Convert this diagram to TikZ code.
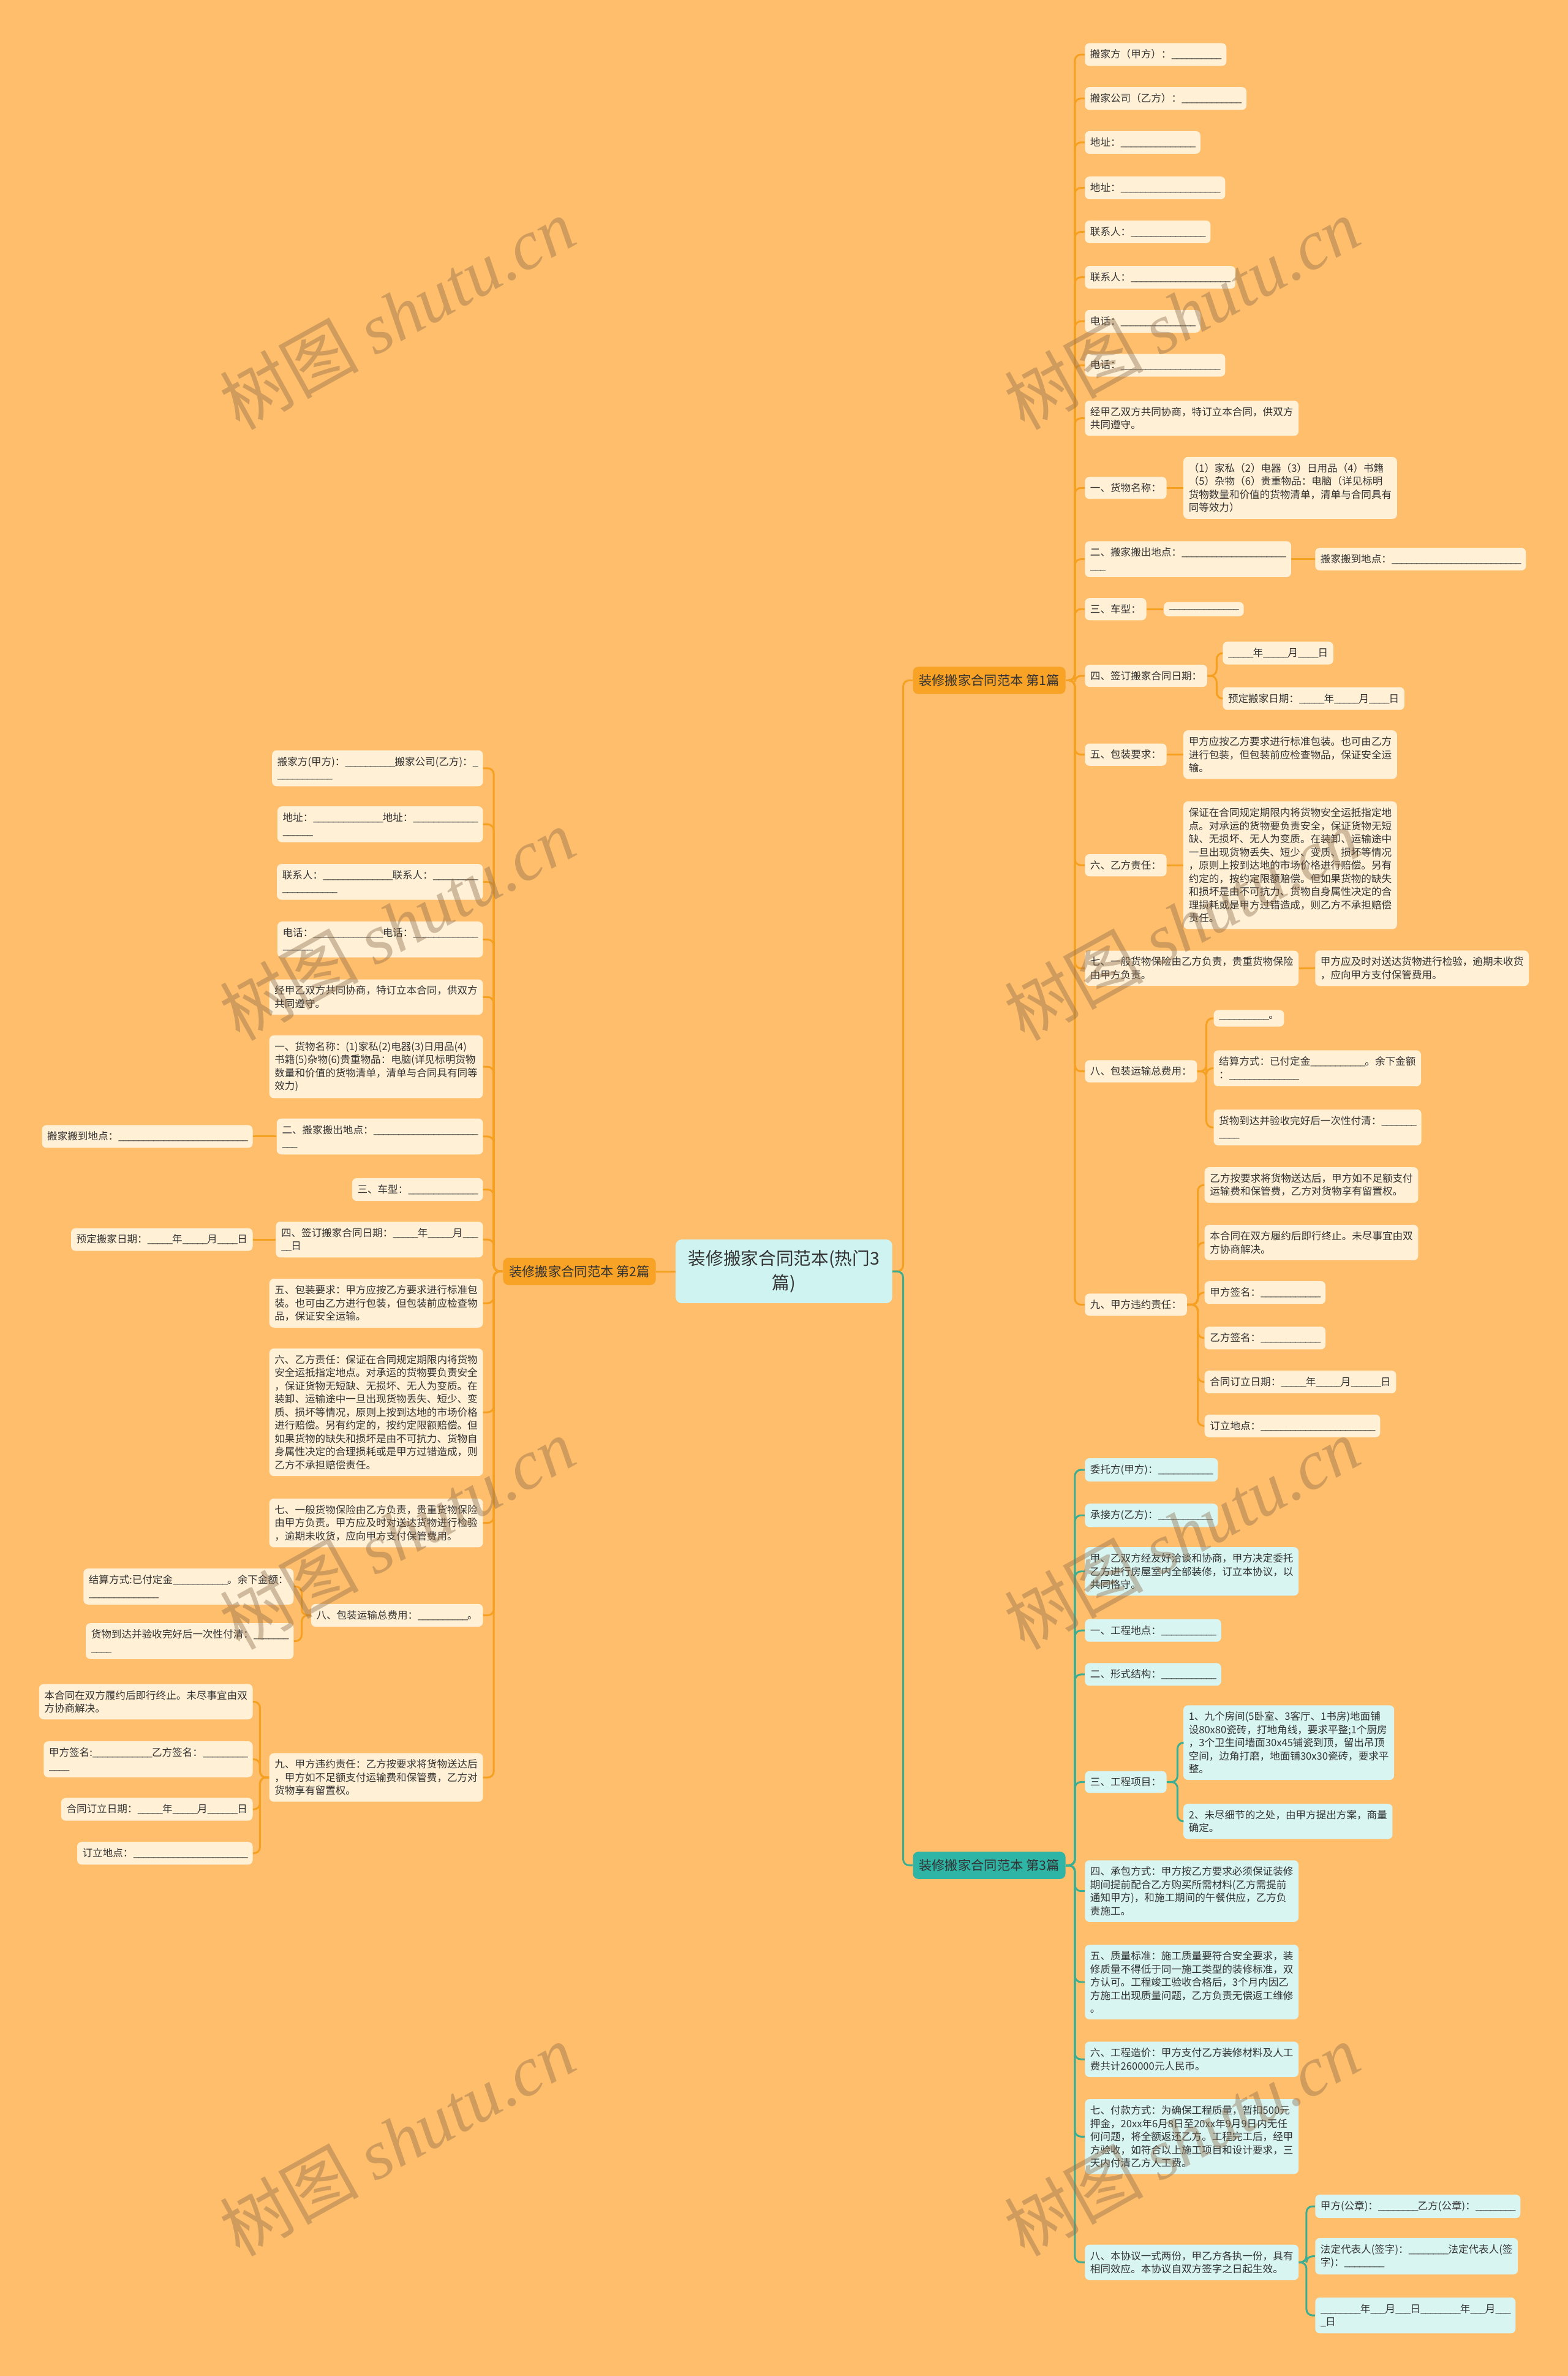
\documentclass[tikz,border=0pt]{standalone}
\usepackage{fontspec}
\setmainfont{Noto Sans CJK SC}
\newfontfamily\wmlatin{Liberation Serif}
\usepackage{tikz}
\usetikzlibrary{positioning}
\definecolor{PageOrange}{HTML}{FFBE6B}
\definecolor{LeafCream}{HTML}{FFF0D6}
\definecolor{LeafTeal}{HTML}{D8F5F1}
\definecolor{HeadOrange}{HTML}{F8A226}
\definecolor{HeadTeal}{HTML}{2EB5A6}
\definecolor{RootTeal}{HTML}{CEF3F0}
\definecolor{LinkOrange}{HTML}{F6A021}
\definecolor{LinkTeal}{HTML}{3AAE93}
\definecolor{TextDark}{HTML}{333333}
\definecolor{WmBrown}{HTML}{8B6B4A}
\newcommand{\leaffont}{\fontsize{6.7}{8.7}\selectfont}
\newcommand{\headfont}{\fontsize{8.6}{10}\selectfont}
\newcommand{\rootfont}{\fontsize{11.6}{16}\selectfont}
\newcommand{\wmfont}{\fontsize{46}{46}\selectfont}
\newcommand{\blnk}[1]{\foreach \x in {1,...,#1}{\_\kern-0.07em}}

\begin{document}
\begin{tikzpicture}[x=1pt, y=-1pt,
  % ── node styles ──────────────────────────────────────────
  leaf/.style={
    fill=LeafCream, rounded corners=3pt,
    align=left, font=\leaffont, text=TextDark,
    inner xsep=3.5pt, inner ysep=4.2pt
  },
  tleaf/.style={leaf, fill=LeafTeal},
  head/.style={
    fill=HeadOrange, rounded corners=3.5pt,
    font=\headfont, text=TextDark,
    minimum height=18pt, inner xsep=4pt
  },
  thead/.style={head, fill=HeadTeal},
  rootbox/.style={
    fill=RootTeal, rounded corners=4pt,
    align=center, font=\rootfont, text=TextDark,
    minimum width=143pt, minimum height=42pt
  },
  % ── link styles ──────────────────────────────────────────
  olink/.style={draw=LinkOrange, line width=1.2pt, rounded corners=4pt},
  tlink/.style={olink, draw=LinkTeal},
  % ── watermark ────────────────────────────────────────────
  wmark/.style={rotate=29, text=WmBrown, opacity=0.4, font=\wmfont}
]

\fill[PageOrange] (0,0) rectangle (1035,1568);
\useasboundingbox (0,0) rectangle (1035,1568);

%% ── Root and chapters ──
\node[rootbox] (ROOT) at (517.5,839) {装修搬家合同范本(热门3\\篇)};
\node[head]  (P1) at (653,449)  {装修搬家合同范本 第1篇};
\node[head]  (P2) at (382.5,839) {装修搬家合同范本 第2篇};
\node[thead] (P3) at (653,1231) {装修搬家合同范本 第3篇};

%% ── Chapter 1 ──
\node[leaf, anchor=west] (P1a) at (716,36)  {搬家方（甲方）：\blnk{10}};
\node[leaf, anchor=west] (P1b) at (716,65)  {搬家公司（乙方）：\blnk{12}};
\node[leaf, anchor=west] (P1c) at (716,94)  {地址：\blnk{15}};
\node[leaf, anchor=west] (P1d) at (716,124) {地址：\blnk{20}};
\node[leaf, anchor=west] (P1e) at (716,153) {联系人：\blnk{15}};
\node[leaf, anchor=west] (P1f) at (716,183) {联系人：\blnk{20}};
\node[leaf, anchor=west] (P1g) at (716,212) {电话：\blnk{15}};
\node[leaf, anchor=west] (P1h) at (716,241) {电话：\blnk{20}};
\node[leaf, anchor=west] (P1i) at (716,276) {经甲乙双方共同协商，特订立本合同，供双方\\共同遵守。};
\node[leaf, anchor=west] (P1j) at (716,322) {一、货物名称：};
\node[leaf, anchor=west] (P1j1) at (781,322) {（1）家私（2）电器（3）日用品（4）书籍\\（5）杂物（6）贵重物品：电脑（详见标明\\货物数量和价值的货物清单，清单与合同具有\\同等效力）};
\node[leaf, anchor=west] (P1k) at (716,369) {二、搬家搬出地点：\blnk{21}\\\blnk{3}};
\node[leaf, anchor=west] (P1k1) at (868,369) {搬家搬到地点：\blnk{26}};
\node[leaf, anchor=west] (P1l) at (716,402) {三、车型：};
\node[leaf, anchor=west] (P1l1) at (768,402) {\blnk{14}};
\node[leaf, anchor=west] (P1m) at (716,446) {四、签订搬家合同日期：};
\node[leaf, anchor=west] (P1m1) at (807,431) {\blnk{5}年\blnk{5}月\blnk{4}日};
\node[leaf, anchor=west] (P1m2) at (807,461) {预定搬家日期：\blnk{5}年\blnk{5}月\blnk{4}日};
\node[leaf, anchor=west] (P1n) at (716,498) {五、包装要求：};
\node[leaf, anchor=west] (P1n1) at (781,498) {甲方应按乙方要求进行标准包装。也可由乙方\\进行包装，但包装前应检查物品，保证安全运\\输。};
\node[leaf, anchor=west] (P1o) at (716,571) {六、乙方责任：};
\node[leaf, anchor=west] (P1o1) at (781,571) {保证在合同规定期限内将货物安全运抵指定地\\点。对承运的货物要负责安全，保证货物无短\\缺、无损坏、无人为变质。在装卸、运输途中\\一旦出现货物丢失、短少、变质、损坏等情况\\，原则上按到达地的市场价格进行赔偿。另有\\约定的，按约定限额赔偿。但如果货物的缺失\\和损坏是由不可抗力、货物自身属性决定的合\\理损耗或是甲方过错造成，则乙方不承担赔偿\\责任。};
\node[leaf, anchor=west] (P1p) at (716,639) {七、一般货物保险由乙方负责，贵重货物保险\\由甲方负责。};
\node[leaf, anchor=west] (P1p1) at (868,639) {甲方应及时对送达货物进行检验，逾期未收货\\，应向甲方支付保管费用。};
\node[leaf, anchor=west] (P1q) at (716,707) {八、包装运输总费用：};
\node[leaf, anchor=west] (P1q1) at (801,672) {\blnk{10}。};
\node[leaf, anchor=west] (P1q2) at (801,705) {结算方式：已付定金\blnk{11}。余下金额\\：\blnk{14}};
\node[leaf, anchor=west] (P1q3) at (801,744) {货物到达并验收完好后一次性付清：\blnk{7}\\\blnk{4}};
\node[leaf, anchor=west] (P1r) at (716,861) {九、甲方违约责任：};
\node[leaf, anchor=west] (P1r1) at (795,782) {乙方按要求将货物送达后，甲方如不足额支付\\运输费和保管费，乙方对货物享有留置权。};
\node[leaf, anchor=west] (P1r2) at (795,820) {本合同在双方履约后即行终止。未尽事宜由双\\方协商解决。};
\node[leaf, anchor=west] (P1r3) at (795,853) {甲方签名：\blnk{12}};
\node[leaf, anchor=west] (P1r4) at (795,883) {乙方签名：\blnk{12}};
\node[leaf, anchor=west] (P1r5) at (795,912) {合同订立日期：\blnk{5}年\blnk{5}月\blnk{6}日};
\node[leaf, anchor=west] (P1r6) at (795,941) {订立地点：\blnk{23}};

%% ── Chapter 2 ──
\node[leaf, anchor=east] (P2a) at (319,507)  {搬家方(甲方)：\blnk{10}搬家公司(乙方)：\blnk{1}\\\blnk{11}};
\node[leaf, anchor=east] (P2b) at (319,544)  {地址：\blnk{14}地址：\blnk{13}\\\blnk{6}};
\node[leaf, anchor=east] (P2c) at (319,582)  {联系人：\blnk{14}联系人：\blnk{9}\\\blnk{11}};
\node[leaf, anchor=east] (P2d) at (319,620)  {电话：\blnk{14}电话：\blnk{13}\\\blnk{6}};
\node[leaf, anchor=east] (P2e) at (319,658)  {经甲乙双方共同协商，特订立本合同，供双方\\共同遵守。};
\node[leaf, anchor=east] (P2f) at (319,704)  {一、货物名称：(1)家私(2)电器(3)日用品(4)\\书籍(5)杂物(6)贵重物品：电脑(详见标明货物\\数量和价值的货物清单，清单与合同具有同等\\效力)};
\node[leaf, anchor=east] (P2g) at (319,750)  {二、搬家搬出地点：\blnk{21}\\\blnk{3}};
\node[leaf, anchor=east] (P2g1) at (167,750) {搬家搬到地点：\blnk{26}};
\node[leaf, anchor=east] (P2h) at (319,785)  {三、车型：\blnk{14}};
\node[leaf, anchor=east] (P2i) at (319,818)  {四、签订搬家合同日期：\blnk{5}年\blnk{5}月\blnk{3}\\\blnk{2}日};
\node[leaf, anchor=east] (P2i1) at (167,818) {预定搬家日期：\blnk{5}年\blnk{5}月\blnk{4}日};
\node[leaf, anchor=east] (P2j) at (319,860)  {五、包装要求：甲方应按乙方要求进行标准包\\装。也可由乙方进行包装，但包装前应检查物\\品，保证安全运输。};
\node[leaf, anchor=east] (P2k) at (319,932)  {六、乙方责任：保证在合同规定期限内将货物\\安全运抵指定地点。对承运的货物要负责安全\\，保证货物无短缺、无损坏、无人为变质。在\\装卸、运输途中一旦出现货物丢失、短少、变\\质、损坏等情况，原则上按到达地的市场价格\\进行赔偿。另有约定的，按约定限额赔偿。但\\如果货物的缺失和损坏是由不可抗力、货物自\\身属性决定的合理损耗或是甲方过错造成，则\\乙方不承担赔偿责任。};
\node[leaf, anchor=east] (P2l) at (319,1005) {七、一般货物保险由乙方负责，贵重货物保险\\由甲方负责。甲方应及时对送达货物进行检验\\，逾期未收货，应向甲方支付保管费用。};
\node[leaf, anchor=east] (P2m) at (319,1066) {八、包装运输总费用：\blnk{10}。};
\node[leaf, anchor=east] (P2m1) at (194,1047) {结算方式:已付定金\blnk{11}。余下金额：\\\blnk{14}};
\node[leaf, anchor=east] (P2m2) at (194,1083) {货物到达并验收完好后一次性付清：\blnk{7}\\\blnk{4}};
\node[leaf, anchor=east] (P2n) at (319,1173) {九、甲方违约责任：乙方按要求将货物送达后\\，甲方如不足额支付运输费和保管费，乙方对\\货物享有留置权。};
\node[leaf, anchor=east] (P2n1) at (167,1123) {本合同在双方履约后即行终止。未尽事宜由双\\方协商解决。};
\node[leaf, anchor=east] (P2n2) at (167,1161) {甲方签名:\blnk{12}乙方签名：\blnk{9}\\\blnk{4}};
\node[leaf, anchor=east] (P2n3) at (167,1194) {合同订立日期：\blnk{5}年\blnk{5}月\blnk{6}日};
\node[leaf, anchor=east] (P2n4) at (167,1223) {订立地点：\blnk{23}};

%% ── Chapter 3 ──
\node[tleaf, anchor=west] (P3a) at (716,970)  {委托方(甲方)：\blnk{11}};
\node[tleaf, anchor=west] (P3b) at (716,1000) {承接方(乙方)：\blnk{11}};
\node[tleaf, anchor=west] (P3c) at (716,1037) {甲、乙双方经友好洽谈和协商，甲方决定委托\\乙方进行房屋室内全部装修，订立本协议，以\\共同恪守。};
\node[tleaf, anchor=west] (P3d) at (716,1076) {一、工程地点：\blnk{11}};
\node[tleaf, anchor=west] (P3e) at (716,1105) {二、形式结构：\blnk{11}};
\node[tleaf, anchor=west] (P3f) at (716,1176) {三、工程项目：};
\node[tleaf, anchor=west] (P3f1) at (781,1150) {1、九个房间(5卧室、3客厅、1书房)地面铺\\设80x80瓷砖，打地角线，要求平整;1个厨房\\，3个卫生间墙面30x45铺瓷到顶，留出吊顶\\空间，边角打磨，地面铺30x30瓷砖，要求平\\整。};
\node[tleaf, anchor=west] (P3f2) at (781,1202) {2、未尽细节的之处，由甲方提出方案，商量\\确定。};
\node[tleaf, anchor=west] (P3g) at (716,1248) {四、承包方式：甲方按乙方要求必须保证装修\\期间提前配合乙方购买所需材料(乙方需提前\\通知甲方)，和施工期间的午餐供应，乙方负\\责施工。};
\node[tleaf, anchor=west] (P3h) at (716,1308) {五、质量标准：施工质量要符合安全要求，装\\修质量不得低于同一施工类型的装修标准，双\\方认可。工程竣工验收合格后，3个月内因乙\\方施工出现质量问题，乙方负责无偿返工维修\\。};
\node[tleaf, anchor=west] (P3i) at (716,1359) {六、工程造价：甲方支付乙方装修材料及人工\\费共计260000元人民币。};
\node[tleaf, anchor=west] (P3j) at (716,1410) {七、付款方式：为确保工程质量，暂扣500元\\押金，20xx年6月8日至20xx年9月9日内无任\\何问题，将全额返还乙方。工程完工后，经甲\\方验收，如符合以上施工项目和设计要求，三\\天内付清乙方人工费。};
\node[tleaf, anchor=west] (P3k) at (716,1493) {八、本协议一式两份，甲乙方各执一份，具有\\相同效应。本协议自双方签字之日起生效。};
\node[tleaf, anchor=west] (P3k1) at (868,1456) {甲方(公章)：\blnk{8}乙方(公章)：\blnk{8}};
\node[tleaf, anchor=west] (P3k2) at (868,1489) {法定代表人(签字)：\blnk{8}法定代表人(签\\字)：\blnk{8}};
\node[tleaf, anchor=west] (P3k3) at (868,1528) {\blnk{8}年\blnk{3}月\blnk{3}日\blnk{8}年\blnk{3}月\blnk{3}\\\blnk{1}日};

%% ── Links: root → chapters ──
\draw[olink] (ROOT.east) -- ++(7,0) |- (P1.west);
\draw[tlink] (ROOT.east) -- ++(7,0) |- (P3.west);
\draw[olink] (ROOT.west) -- (P2.east);

%% ── Links: chapter 1 ──
\draw[olink] (P1.east) -- ++(6,0) |- (P1a.west);
\draw[olink] (P1.east) -- ++(6,0) |- (P1b.west);
\draw[olink] (P1.east) -- ++(6,0) |- (P1c.west);
\draw[olink] (P1.east) -- ++(6,0) |- (P1d.west);
\draw[olink] (P1.east) -- ++(6,0) |- (P1e.west);
\draw[olink] (P1.east) -- ++(6,0) |- (P1f.west);
\draw[olink] (P1.east) -- ++(6,0) |- (P1g.west);
\draw[olink] (P1.east) -- ++(6,0) |- (P1h.west);
\draw[olink] (P1.east) -- ++(6,0) |- (P1i.west);
\draw[olink] (P1.east) -- ++(6,0) |- (P1j.west);
\draw[olink] (P1.east) -- ++(6,0) |- (P1k.west);
\draw[olink] (P1.east) -- ++(6,0) |- (P1l.west);
\draw[olink] (P1.east) -- ++(6,0) |- (P1m.west);
\draw[olink] (P1.east) -- ++(6,0) |- (P1n.west);
\draw[olink] (P1.east) -- ++(6,0) |- (P1o.west);
\draw[olink] (P1.east) -- ++(6,0) |- (P1p.west);
\draw[olink] (P1.east) -- ++(6,0) |- (P1q.west);
\draw[olink] (P1.east) -- ++(6,0) |- (P1r.west);
\draw[olink] (P1j.east) -- (P1j1.west);
\draw[olink] (P1k.east) -- (P1k1.west);
\draw[olink] (P1l.east) -- (P1l1.west);
\draw[olink] (P1m.east) -- ++(6,0) |- (P1m1.west);
\draw[olink] (P1m.east) -- ++(6,0) |- (P1m2.west);
\draw[olink] (P1n.east) -- (P1n1.west);
\draw[olink] (P1o.east) -- (P1o1.west);
\draw[olink] (P1p.east) -- (P1p1.west);
\draw[olink] (P1q.east) -- ++(6,0) |- (P1q1.west);
\draw[olink] (P1q.east) -- ++(6,0) |- (P1q2.west);
\draw[olink] (P1q.east) -- ++(6,0) |- (P1q3.west);
\draw[olink] (P1r.east) -- ++(7,0) |- (P1r1.west);
\draw[olink] (P1r.east) -- ++(7,0) |- (P1r2.west);
\draw[olink] (P1r.east) -- ++(7,0) |- (P1r3.west);
\draw[olink] (P1r.east) -- ++(7,0) |- (P1r4.west);
\draw[olink] (P1r.east) -- ++(7,0) |- (P1r5.west);
\draw[olink] (P1r.east) -- ++(7,0) |- (P1r6.west);

%% ── Links: chapter 2 ──
\draw[olink] (P2.west) -- ++(-6,0) |- (P2a.east);
\draw[olink] (P2.west) -- ++(-6,0) |- (P2b.east);
\draw[olink] (P2.west) -- ++(-6,0) |- (P2c.east);
\draw[olink] (P2.west) -- ++(-6,0) |- (P2d.east);
\draw[olink] (P2.west) -- ++(-6,0) |- (P2e.east);
\draw[olink] (P2.west) -- ++(-6,0) |- (P2f.east);
\draw[olink] (P2.west) -- ++(-6,0) |- (P2g.east);
\draw[olink] (P2.west) -- ++(-6,0) |- (P2h.east);
\draw[olink] (P2.west) -- ++(-6,0) |- (P2i.east);
\draw[olink] (P2.west) -- ++(-6,0) |- (P2j.east);
\draw[olink] (P2.west) -- ++(-6,0) |- (P2k.east);
\draw[olink] (P2.west) -- ++(-6,0) |- (P2l.east);
\draw[olink] (P2.west) -- ++(-6,0) |- (P2m.east);
\draw[olink] (P2.west) -- ++(-6,0) |- (P2n.east);
\draw[olink] (P2g.west) -- (P2g1.east);
\draw[olink] (P2i.west) -- (P2i1.east);
\draw[olink] (P2m.west) -- ++(-6,0) |- (P2m1.east);
\draw[olink] (P2m.west) -- ++(-6,0) |- (P2m2.east);
\draw[olink] (P2n.west) -- ++(-6,0) |- (P2n1.east);
\draw[olink] (P2n.west) -- ++(-6,0) |- (P2n2.east);
\draw[olink] (P2n.west) -- ++(-6,0) |- (P2n3.east);
\draw[olink] (P2n.west) -- ++(-6,0) |- (P2n4.east);

%% ── Links: chapter 3 ──
\draw[tlink] (P3.east) -- ++(6,0) |- (P3a.west);
\draw[tlink] (P3.east) -- ++(6,0) |- (P3b.west);
\draw[tlink] (P3.east) -- ++(6,0) |- (P3c.west);
\draw[tlink] (P3.east) -- ++(6,0) |- (P3d.west);
\draw[tlink] (P3.east) -- ++(6,0) |- (P3e.west);
\draw[tlink] (P3.east) -- ++(6,0) |- (P3f.west);
\draw[tlink] (P3.east) -- ++(6,0) |- (P3g.west);
\draw[tlink] (P3.east) -- ++(6,0) |- (P3h.west);
\draw[tlink] (P3.east) -- ++(6,0) |- (P3i.west);
\draw[tlink] (P3.east) -- ++(6,0) |- (P3j.west);
\draw[tlink] (P3.east) -- ++(6,0) |- (P3k.west);
\draw[tlink] (P3f.east) -- ++(7,0) |- (P3f1.west);
\draw[tlink] (P3f.east) -- ++(7,0) |- (P3f2.west);
\draw[tlink] (P3k.east) -- ++(5,0) |- (P3k1.west);
\draw[tlink] (P3k.east) -- ++(5,0) |- (P3k2.west);
\draw[tlink] (P3k.east) -- ++(5,0) |- (P3k3.west);

%% ── Watermarks ──
\node[wmark] (W1) at (262,207)  {树图 {\wmlatin\itshape shutu.cn}};
\node[wmark] (W2) at (780,207)  {树图 {\wmlatin\itshape shutu.cn}};
\node[wmark] (W3) at (262,610)  {树图 {\wmlatin\itshape shutu.cn}};
\node[wmark] (W4) at (780,610)  {树图 {\wmlatin\itshape shutu.cn}};
\node[wmark] (W5) at (262,1012) {树图 {\wmlatin\itshape shutu.cn}};
\node[wmark] (W6) at (780,1012) {树图 {\wmlatin\itshape shutu.cn}};
\node[wmark] (W7) at (262,1412) {树图 {\wmlatin\itshape shutu.cn}};
\node[wmark] (W8) at (780,1412) {树图 {\wmlatin\itshape shutu.cn}};

\end{tikzpicture}
\end{document}
